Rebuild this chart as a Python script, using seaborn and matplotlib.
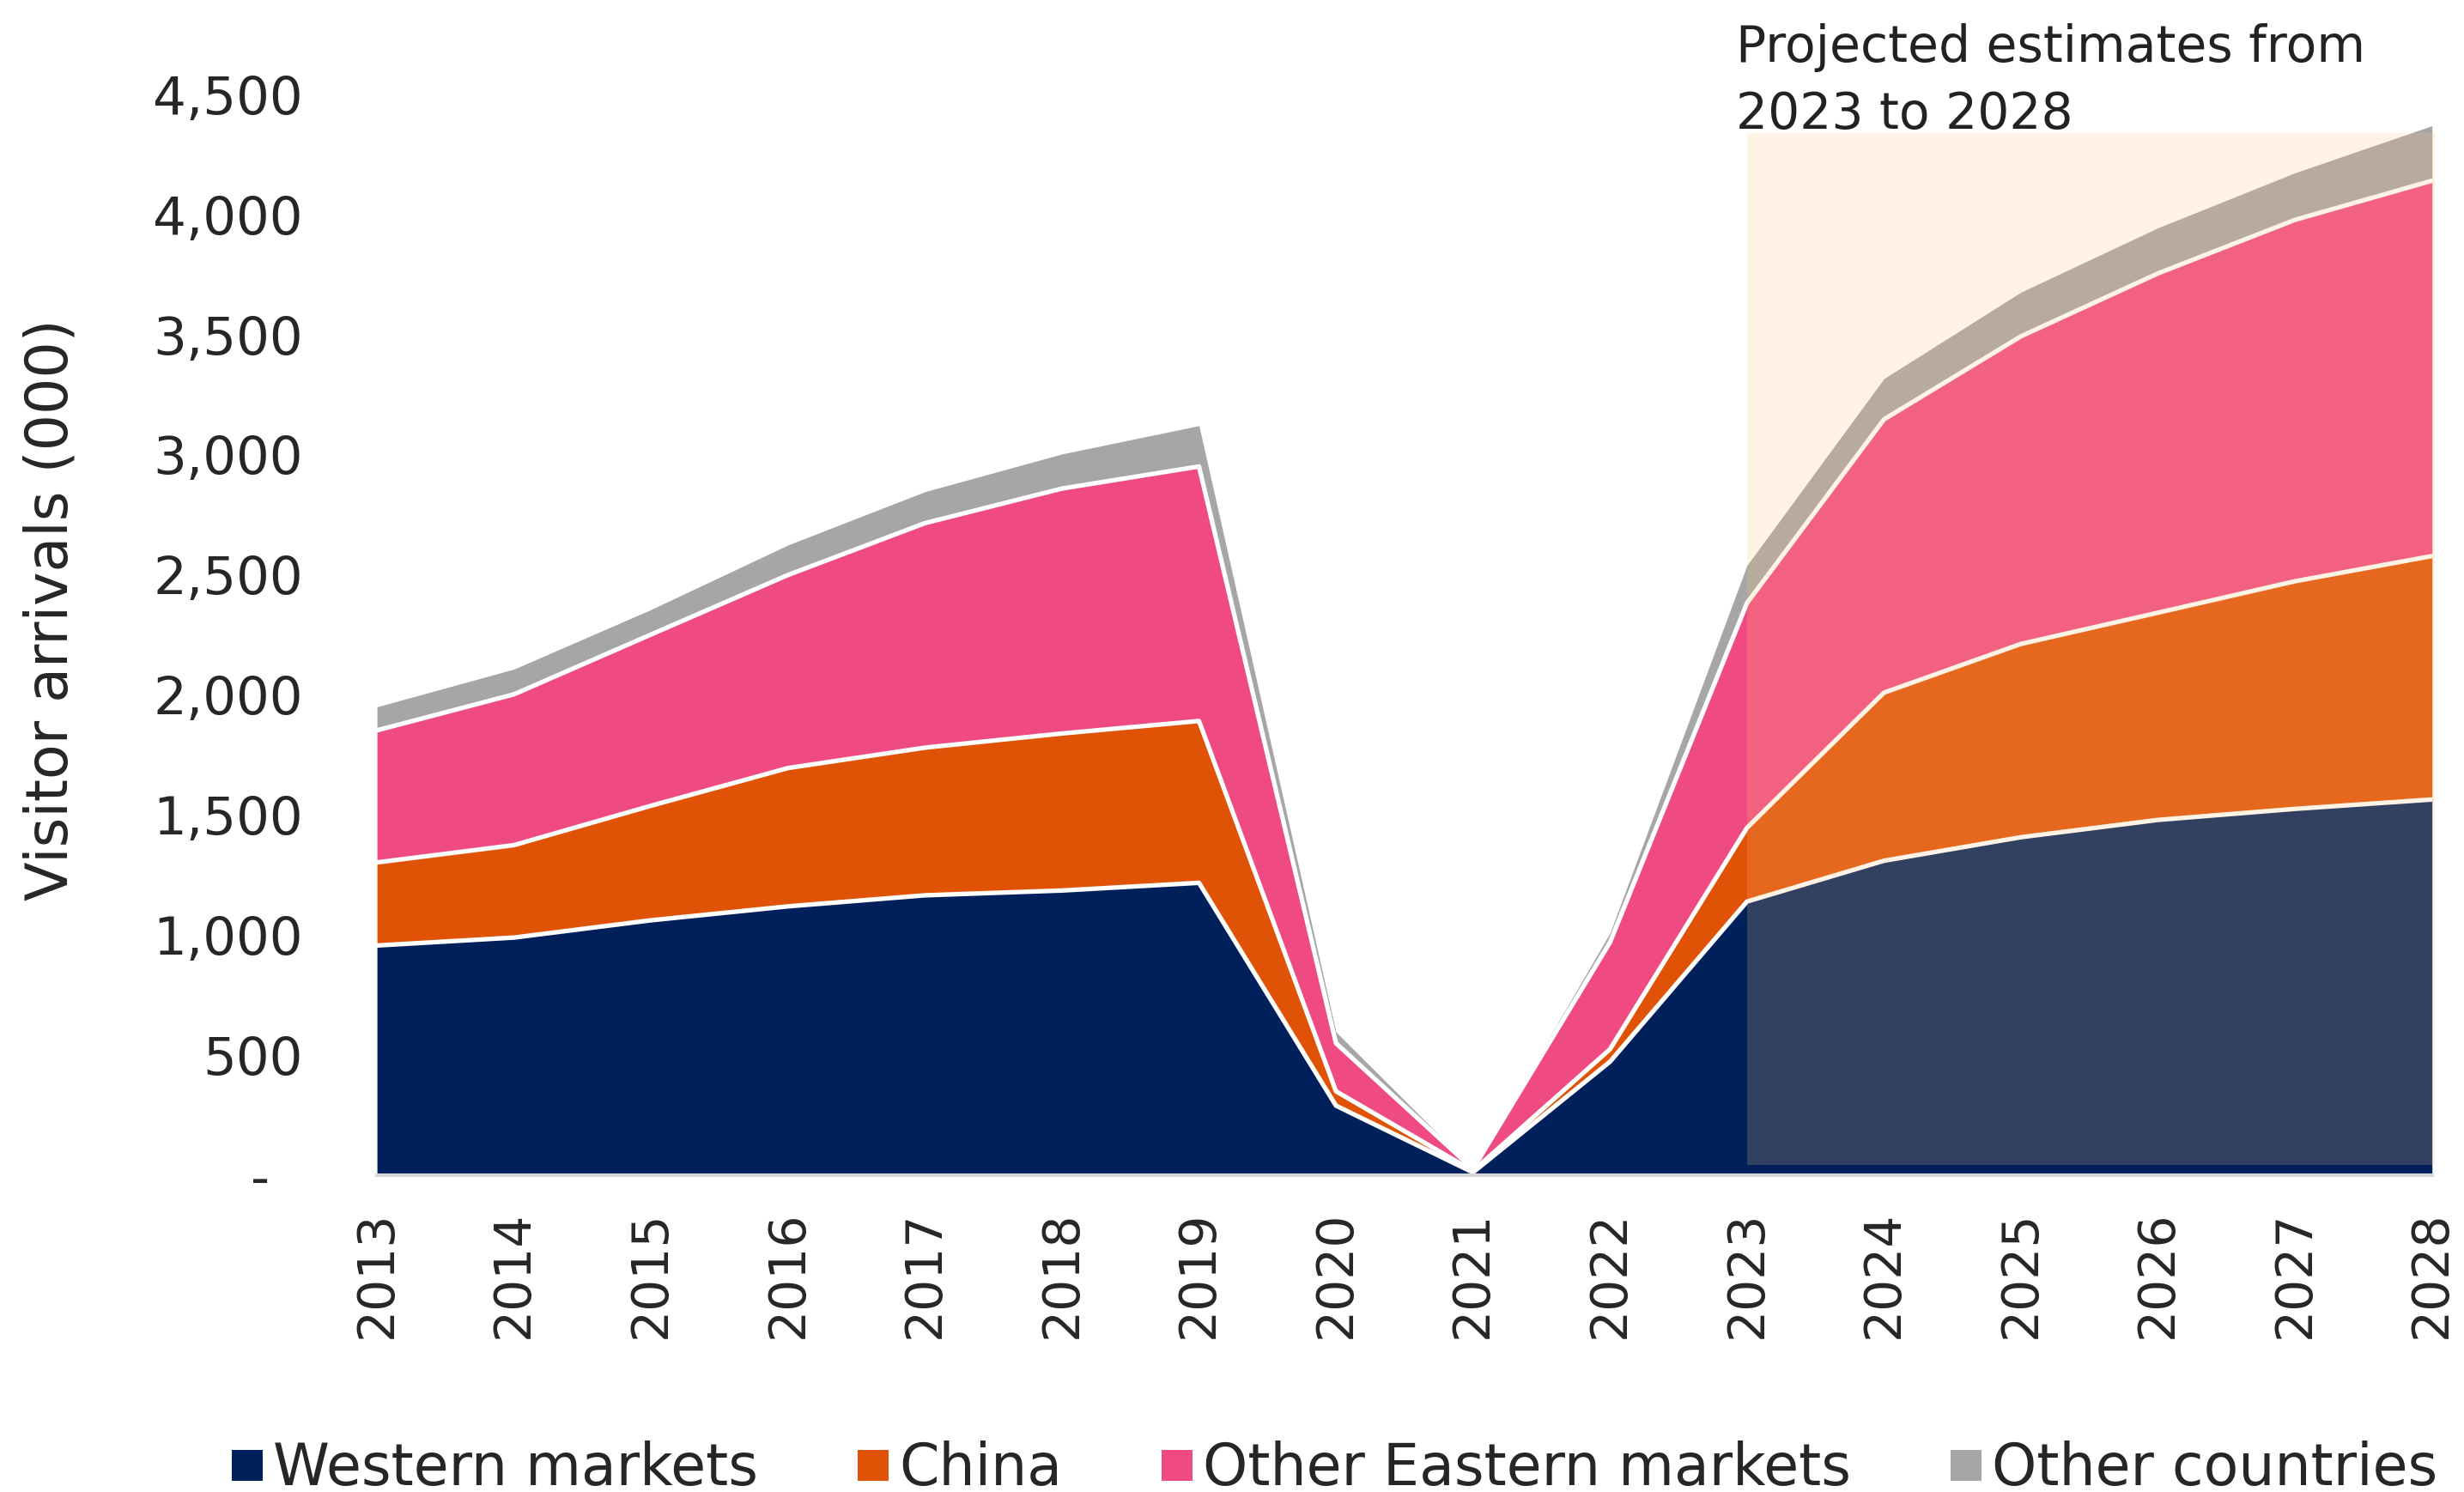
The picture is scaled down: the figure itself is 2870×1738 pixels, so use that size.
import numpy as np
import pandas as pd
import matplotlib.pyplot as plt
import seaborn as sns
from matplotlib.lines import Line2D
from matplotlib.patches import Rectangle

# data (thousands of visitor arrivals)
years = list(range(2013, 2029))
western = [955, 988, 1060, 1118, 1164, 1184, 1216, 288, 10, 471, 1138, 1308, 1406, 1478, 1524, 1563]
china = [346, 385, 477, 576, 615, 654, 674, 60, 6, 52, 307, 700, 805, 863, 948, 1014]
other_eastern = [550, 628, 713, 804, 935, 1020, 1060, 200, 8, 445, 936, 1138, 1281, 1413, 1505, 1563]
other_countries = [98, 105, 104, 125, 131, 144, 170, 47, 2, 39, 157, 170, 184, 190, 196, 229]

series_names = ['Western markets', 'China', 'Other Eastern markets', 'Other countries']
colors = ['#00205B', '#E05206', '#EF4A81', '#A6A6A6']
proj_start, proj_end = 2023, 2028

df = pd.DataFrame({'Year': years, 'Western markets': western, 'China': china,
                   'Other Eastern markets': other_eastern, 'Other countries': other_countries})

sns.set_theme(style='white')
plt.rcParams['font.family'] = ['DejaVu Sans']

fig = plt.figure(figsize=(28.7, 17.38), dpi=100)
ax = fig.add_axes([0.153, 0.2126, 0.834, 0.7242])

ax.stackplot(df['Year'], [df[c] for c in series_names], colors=colors, linewidth=0)

# white separators between the layers
cum = df[series_names].cumsum(axis=1)
for c in series_names[:-1]:
    sns.lineplot(x=df['Year'], y=cum[c], color='white', linewidth=3.8, ax=ax, legend=False)

# shaded projection period
ax.add_patch(Rectangle((proj_start, 40), proj_end - proj_start + 0.02, 4300,
                       facecolor=(1.0, 0.765, 0.5), alpha=0.2, edgecolor='none',
                       zorder=5, clip_on=False))
ax.text(proj_start - 0.08, 4795, 'Projected estimates from\n2023 to 2028', fontsize=42,
        color='#222222', va='top', ha='left', linespacing=1.45)

ax.set_xlim(2013, 2028)
ax.set_ylim(0, 4500)
ax.set_xticks(years)
ax.set_xticklabels([str(y) for y in years], rotation=90, fontsize=42)
yt = list(range(0, 4501, 500))
ax.set_yticks(yt)
ax.set_yticklabels(['-  '] + [f'{v:,}' for v in yt[1:]], fontsize=44)
ax.tick_params(axis='y', pad=62, length=0)
ax.tick_params(axis='x', pad=30, length=0)
ax.set_xlabel('')
ax.set_ylabel('Visitor arrivals (000)', fontsize=48)
ax.yaxis.set_label_coords(-0.145, 0.523)

for s in ['top', 'right', 'left']:
    ax.spines[s].set_visible(False)
ax.spines['bottom'].set_color('#D9D9D9')
ax.spines['bottom'].set_linewidth(3)

handles = [Line2D([0], [0], marker='s', linestyle='', markersize=26,
                  markerfacecolor=c, markeredgewidth=0) for c in colors]
fig.legend(handles, series_names, loc='lower left', bbox_to_anchor=(0.084, -0.019),
           ncol=4, frameon=False, fontsize=48, handletextpad=0.16,
           columnspacing=1.7, handlelength=0.6, borderaxespad=0)

fig.savefig('out.png', dpi=100)
